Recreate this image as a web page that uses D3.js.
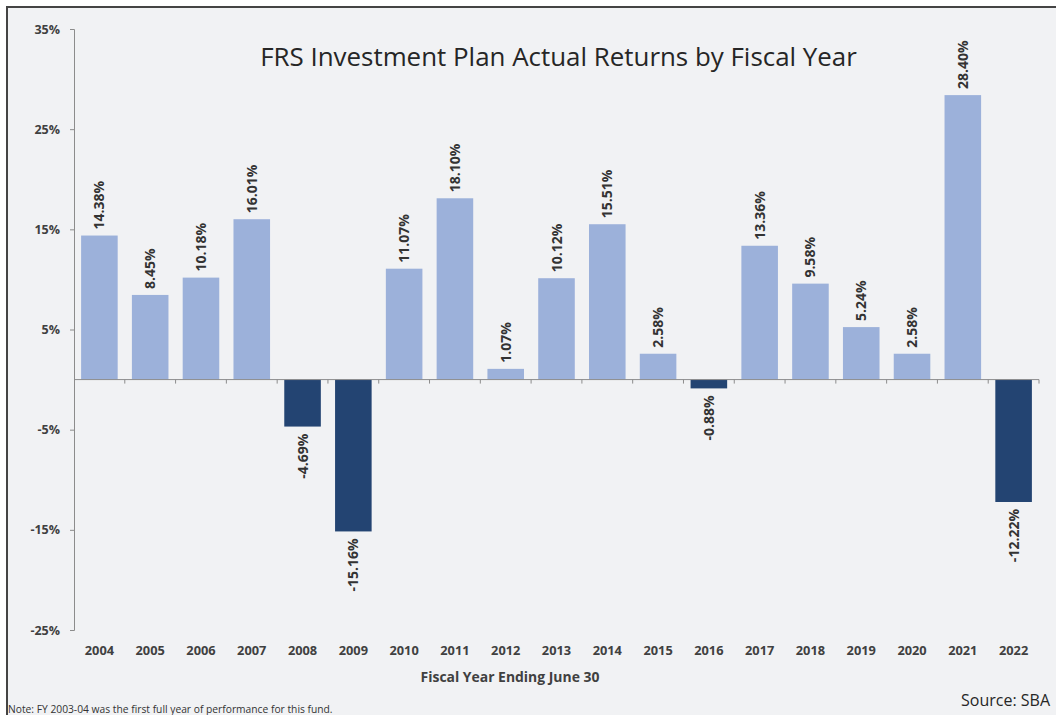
<!DOCTYPE html>
<html>
<head>
<meta charset="utf-8">
<script src="https://cdn.jsdelivr.net/npm/d3@7"></script>
<style>
  html, body { margin: 0; padding: 0; background: #ffffff; }
  svg { display: block; }
  text { font-family: "Open Sans", "Noto Sans", sans-serif; }
</style>
</head>
<body>
<svg id="chart" width="1056" height="715"></svg>
<script>
// ---- data ----
const years = ["2004","2005","2006","2007","2008","2009","2010","2011","2012","2013","2014","2015","2016","2017","2018","2019","2020","2021","2022"];
const returns = [14.38, 8.45, 10.18, 16.01, -4.69, -15.16, 11.07, 18.10, 1.07, 10.12, 15.51, 2.58, -0.88, 13.36, 9.58, 5.24, 2.58, 28.40, -12.22];
const yTicks = [35, 25, 15, 5, -5, -15, -25];
const titleText = "FRS Investment Plan Actual Returns by Fiscal Year";
const xTitleText = "Fiscal Year Ending June 30";
const sourceText = "Source: SBA";
const noteText = "Note: FY 2003-04 was the first full year of performance for this fund.";

// ---- layout ----
const W = 1056, H = 715;
const svg = d3.select("#chart");
const plot = { left: 74, right: 1039, top: 29, bottom: 630 };

// frame
svg.append("rect").attr("x", 8).attr("y", 8).attr("width", W).attr("height", H)
  .attr("fill", "#f1f2f4");
svg.append("line").attr("x1", 7).attr("x2", 7).attr("y1", 7).attr("y2", H)
  .attr("stroke", "#444").attr("stroke-width", 2);
svg.append("line").attr("x1", 6).attr("x2", W).attr("y1", 7).attr("y2", 7)
  .attr("stroke", "#444").attr("stroke-width", 2);

const x = d3.scaleBand().domain(years).range([plot.left, plot.right])
  .paddingInner(0.28).paddingOuter(0.14);
const y = d3.scaleLinear().domain([-25, 35]).range([plot.bottom, plot.top]);

const data = years.map((yr, i) => ({ year: yr, value: returns[i] }));

// y axis
const yAxis = d3.axisLeft(y).tickValues(yTicks).tickSize(4).tickPadding(10)
  .tickFormat(d => String(d) + "%");
const gy = svg.append("g").attr("transform", `translate(${plot.left},0)`).call(yAxis);
gy.select(".domain").attr("stroke", "#8c8c8c");
gy.selectAll(".tick line").attr("stroke", "#8c8c8c");
gy.selectAll(".tick text").attr("fill", "#404040").style("font-weight", "700")
  .style("font-size", "12.5px").style("font-family", '"Open Sans", sans-serif');

// bars
const light = "#9cb1da", dark = "#234472";
svg.append("g").selectAll("rect").data(data).join("rect")
  .attr("x", d => x(d.year))
  .attr("width", x.bandwidth())
  .attr("y", d => y(Math.max(0, d.value)))
  .attr("height", d => Math.abs(y(d.value) - y(0)))
  .attr("fill", d => d.value >= 0 ? light : dark);

// zero axis with boundary ticks
const step = x.step();
const boundaries = d3.range(1, years.length + 1).map(i => plot.left + i * step);
const zeroG = svg.append("g");
zeroG.append("line").attr("x1", plot.left).attr("x2", plot.right)
  .attr("y1", y(0)).attr("y2", y(0)).attr("stroke", "#8c8c8c").attr("stroke-width", 1);
zeroG.selectAll("line.tk").data(boundaries).join("line").attr("class", "tk")
  .attr("x1", d => d).attr("x2", d => d)
  .attr("y1", y(0)).attr("y2", y(0) + 4).attr("stroke", "#8c8c8c");

// value labels
const fmt = v => d3.format(".2f")(v).replace("\u2212", "-") + "%";
svg.append("g").selectAll("text").data(data).join("text")
  .attr("transform", d => {
    const cx = x(d.year) + x.bandwidth() / 2 + 5;
    const yy = d.value >= 0 ? y(d.value) - 6 : y(d.value) + 7;
    return `translate(${cx},${yy}) rotate(-90)`;
  })
  .attr("text-anchor", d => d.value >= 0 ? "start" : "end")
  .attr("fill", "#333")
  .style("font-weight", "700")
  .style("font-size", "14px")
  .text(d => fmt(d.value));

// x category labels
svg.append("g").selectAll("text").data(years).join("text")
  .attr("x", d => x(d) + x.bandwidth() / 2)
  .attr("y", 655)
  .attr("text-anchor", "middle")
  .attr("fill", "#404040")
  .style("font-weight", "700")
  .style("font-size", "12.8px")
  .text(d => d);

// fit helper
function fit(sel, target) {
  const w = sel.node().getComputedTextLength();
  const fs = parseFloat(sel.style("font-size"));
  sel.style("font-size", (fs * target / w) + "px");
}

// title
const title = svg.append("text").attr("x", 558.5).attr("y", 66)
  .attr("text-anchor", "middle").attr("fill", "#262626")
  .style("font-size", "26px").style("font-weight", "400").text(titleText);
fit(title, 597);

// x axis title
const xt = svg.append("text").attr("x", 510).attr("y", 682)
  .attr("text-anchor", "middle").attr("fill", "#404040")
  .style("font-size", "14px").style("font-weight", "700").text(xTitleText);
fit(xt, 179);

// source
const src = svg.append("text").attr("x", 1050).attr("y", 706)
  .attr("text-anchor", "end").attr("fill", "#262626")
  .style("font-size", "16px").text(sourceText);
fit(src, 89);

// note
const note = svg.append("text").attr("x", 8).attr("y", 713)
  .attr("fill", "#333")
  .style("font-size", "10px").text(noteText);
fit(note, 325);
</script>
</body>
</html>
